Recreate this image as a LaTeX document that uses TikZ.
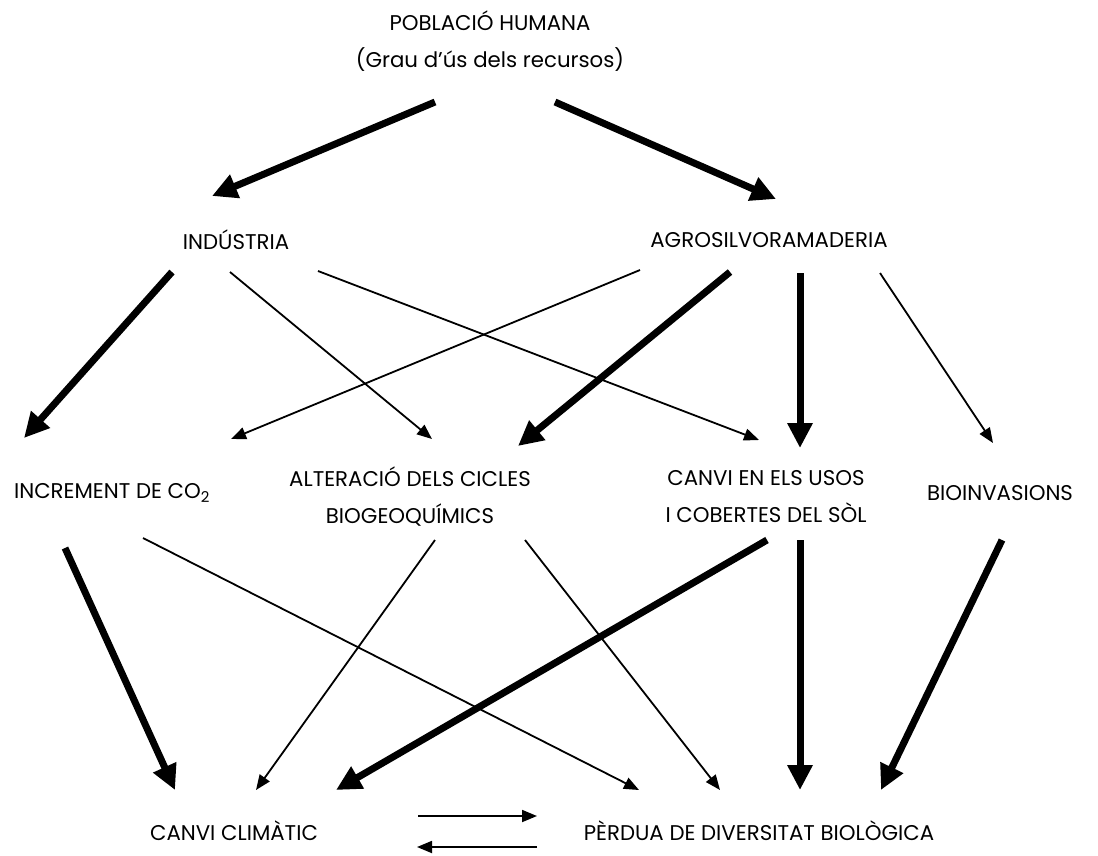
\documentclass[tikz,border=0pt]{standalone}
\usepackage{fontspec}
\setmainfont{Poppins}
\usetikzlibrary{arrows.meta}
\tikzset{
  lbl/.style={font=\fontsize{21.3}{37}\selectfont, align=center, inner sep=0pt},
  thickarr/.style={line width=7pt, -{Triangle[length=25pt,width=24pt]}},
  thinarr/.style={line width=1.8pt, -{Triangle[length=15pt,width=12pt]}},
}
\begin{document}
\begin{tikzpicture}[x=1pt,y=-1pt]
\useasboundingbox (0,0) rectangle (1098,855);
% nodes
\node[lbl] (pob) at (490,41) {POBLACIÓ HUMANA\\(Grau d’ús dels recursos)};
\node[lbl] (ind) at (236,240) {INDÚSTRIA};
\node[lbl] (agr) at (769,240) {AGROSILVORAMADERIA};
\node[lbl] (co2) at (112,493) {INCREMENT DE CO\textsubscript{2}};
\node[lbl] (alt) at (410,497) {ALTERACIÓ DELS CICLES\\BIOGEOQUÍMICS};
\node[lbl] (sol) at (766,497) {CANVI EN ELS USOS\\I COBERTES DEL SÒL};
\node[lbl] (bio) at (1000,493) {BIOINVASIONS};
\node[lbl] (cli) at (234,831) {CANVI CLIMÀTIC};
\node[lbl] (per) at (759,831) {PÈRDUA DE DIVERSITAT BIOLÒGICA};
% end points
\coordinate (pobL) at (435,102);
\coordinate (pobR) at (555,102);
\coordinate (indT) at (212,196);
\coordinate (agrT) at (776,199);
\coordinate (indA) at (172,272);
\coordinate (indB) at (230,272);
\coordinate (indC) at (318,271);
\coordinate (agrA) at (640,270);
\coordinate (agrB) at (730,272);
\coordinate (agrC) at (800,273);
\coordinate (agrD) at (880,273);
\coordinate (co2T) at (24,438);
\coordinate (co2U) at (231,439);
\coordinate (altT) at (432,439);
\coordinate (altU) at (518,446);
\coordinate (solT) at (759,440);
\coordinate (solU) at (800,448);
\coordinate (bioT) at (993,443);
\coordinate (co2A) at (65,548);
\coordinate (co2B) at (143,538);
\coordinate (altA) at (435,540);
\coordinate (altB) at (525,540);
\coordinate (solA) at (767,540);
\coordinate (solB) at (800,540);
\coordinate (bioA) at (1002,540);
\coordinate (cliA) at (175,790);
\coordinate (cliB) at (256,790);
\coordinate (cliC) at (336,790);
\coordinate (perA) at (639,790);
\coordinate (perB) at (720,790);
\coordinate (perC) at (800,790);
\coordinate (perD) at (881,790);
\coordinate (cliR) at (418,816);
\coordinate (perL) at (537,816);
\coordinate (perL2) at (537,847);
\coordinate (cliR2) at (417,847);
% arrows
\draw[thickarr] (pobL) -- (indT);
\draw[thickarr] (pobR) -- (agrT);
\draw[thickarr] (indA) -- (co2T);
\draw[thinarr] (indB) -- (altT);
\draw[thinarr] (indC) -- (solT);
\draw[thinarr] (agrA) -- (co2U);
\draw[thickarr] (agrB) -- (altU);
\draw[thickarr] (agrC) -- (solU);
\draw[thinarr] (agrD) -- (bioT);
\draw[thickarr] (co2A) -- (cliA);
\draw[thinarr] (co2B) -- (perA);
\draw[thinarr] (altA) -- (cliB);
\draw[thinarr] (altB) -- (perB);
\draw[thickarr] (solA) -- (cliC);
\draw[thickarr] (solB) -- (perC);
\draw[thickarr] (bioA) -- (perD);
\draw[thinarr] (cliR) -- (perL);
\draw[thinarr] (perL2) -- (cliR2);
\end{tikzpicture}
\end{document}
